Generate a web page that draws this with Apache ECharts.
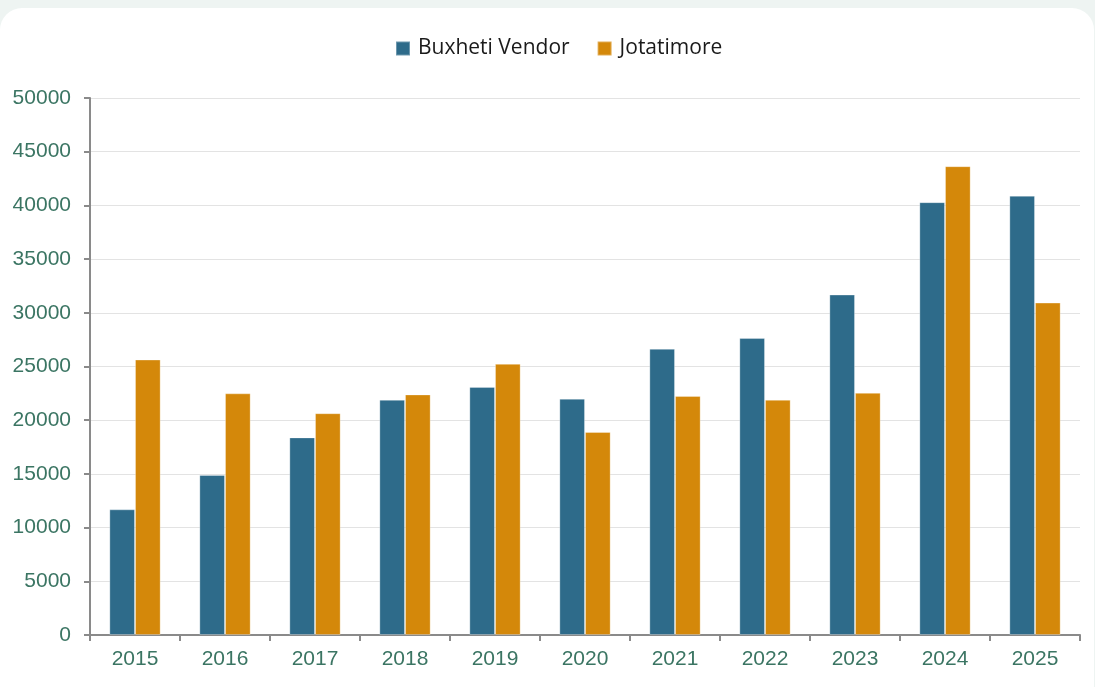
<!DOCTYPE html>
<html>
<head>
<meta charset="utf-8">
<script src="https://cdn.jsdelivr.net/npm/echarts@6/dist/echarts.min.js"></script>
<style>
  html, body { margin: 0; padding: 0; background: #eef4f2; width: 1095px; height: 687px; overflow: hidden; }
  #card { position: absolute; left: 0; top: 8px; width: 1094px; height: 700px; background: #ffffff; border-radius: 22px; }
  #chart { position: absolute; left: 0; top: 0; width: 1095px; height: 687px; }
</style>
</head>
<body>
<div id="card"></div>
<div id="chart"></div>
<script>
const categories = ['2015','2016','2017','2018','2019','2020','2021','2022','2023','2024','2025'];
const buxhetiVendor = [11700, 14900, 18400, 21900, 23100, 22000, 26650, 27650, 31700, 40300, 40900];
const jotatimore = [25650, 22500, 20650, 22400, 25250, 18900, 22250, 21900, 22550, 43650, 30950];
const seriesNames = ['Buxheti Vendor', 'Jotatimore'];
const yTicks = { min: 0, max: 50000, interval: 5000 };

const chart = echarts.init(document.getElementById('chart'), null, { renderer: 'canvas' });
const labelColor = '#3b7563';
const axisGray = '#8a8a8a';
chart.setOption({
  backgroundColor: 'transparent',
  animation: false,
  legend: {
    top: 33,
    left: 390,
    padding: [5, 5, 5, 5],
    icon: 'rect',
    itemWidth: 14,
    itemHeight: 14,
    itemGap: 27,
    textStyle: { fontFamily: 'Open Sans', fontSize: 21, color: '#1a1a1a', padding: [0, 0, 0, 3] },
    data: seriesNames
  },
  grid: { left: 90, right: 15, top: 98, bottom: 52, containLabel: false },
  xAxis: {
    type: 'category',
    data: categories,
    boundaryGap: true,
    axisLine: { show: true, lineStyle: { color: axisGray, width: 2 } },
    axisTick: { show: true, length: 6, lineStyle: { color: axisGray, width: 2 } },
    axisLabel: { color: labelColor, fontFamily: 'Liberation Sans', fontSize: 21, margin: 14 },
    splitLine: { show: false }
  },
  yAxis: {
    type: 'value',
    min: yTicks.min,
    max: yTicks.max,
    interval: yTicks.interval,
    axisLine: { show: true, lineStyle: { color: axisGray, width: 2 } },
    axisTick: { show: true, length: 6, lineStyle: { color: axisGray, width: 2 } },
    axisLabel: { color: labelColor, fontFamily: 'Liberation Sans', fontSize: 21, margin: 19, formatter: v => String(v) },
    splitLine: { show: true, lineStyle: { color: '#e3e3e3', width: 1.2 } }
  },
  series: [
    {
      name: seriesNames[0],
      type: 'bar',
      data: buxhetiVendor,
      barGap: '0%',
      barCategoryGap: '43%',
      itemStyle: { color: '#2e6b8a', borderColor: 'rgba(255,255,255,0.3)', borderWidth: 1 }
    },
    {
      name: seriesNames[1],
      type: 'bar',
      data: jotatimore,
      barGap: '0%',
      barCategoryGap: '43%',
      itemStyle: { color: '#d4880a', borderColor: 'rgba(255,255,255,0.3)', borderWidth: 1 }
    }
  ]
});
</script>
</body>
</html>
